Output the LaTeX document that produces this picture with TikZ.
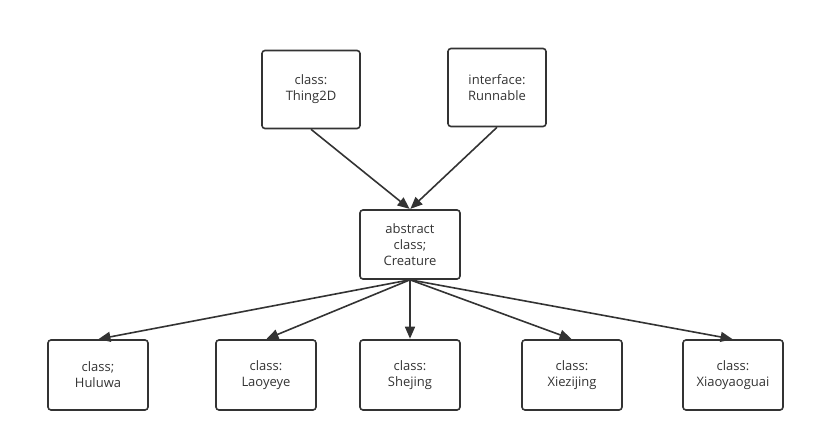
\documentclass[tikz,border=0pt]{standalone}
\usepackage{fontspec}
\setmainfont{Open Sans}
\usetikzlibrary{arrows.meta}
\definecolor{ink}{HTML}{333333}
\tikzset{
  box/.style={draw=ink, line width=1.6pt, rounded corners=3pt, minimum width=98pt, minimum height=78pt, align=center, font=\fontsize{13}{16}\selectfont, text=ink, inner sep=0pt},
  cbox/.style={box, minimum width=100pt, minimum height=70pt},
  link/.style={draw=ink, line width=1.6pt, -{Triangle[length=12pt,width=10pt]}, shorten >=0.5pt}
}
\begin{document}
\begin{tikzpicture}[x=1pt,y=-1pt]
\useasboundingbox (0,0) rectangle (815,442);
\node[box] (thing) at (311,89.5) {class:\\Thing2D};
\node[box] (run) at (497,87.5) {interface:\\Runnable};
\node[cbox, minimum height=69pt] (cre) at (410,244.5) {abstract\\class;\\Creature};
\node[cbox] (hul) at (98,375) {class;\\Huluwa};
\node[cbox] (lao) at (266,375) {class:\\Laoyeye};
\node[cbox] (she) at (410,375) {class:\\Shejing};
\node[cbox] (xie) at (572,375) {class:\\Xiezijing};
\node[cbox] (xia) at (733,375) {class:\\Xiaoyaoguai};
\draw[link] (thing.south) -- (cre.north);
\draw[link] (run.south) -- (cre.north);
\foreach \t in {hul,lao,she,xie,xia}
  \draw[link] (cre.south) -- (\t.north);
\end{tikzpicture}
\end{document}
